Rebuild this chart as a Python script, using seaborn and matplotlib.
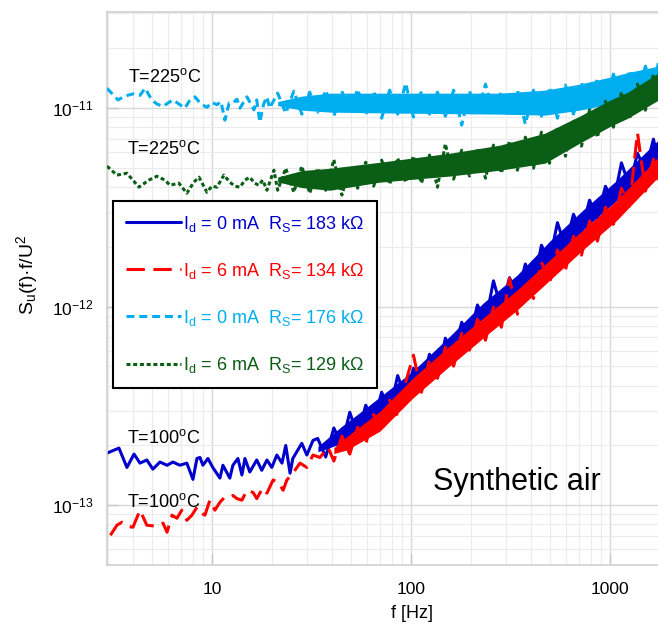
import numpy as np
import matplotlib
matplotlib.use('Agg')
import matplotlib.pyplot as plt
import matplotlib.ticker as mticker
import seaborn as sns

# ---------------- data (values in units of 1e-13) ----------------
SCALE = 1e-13

# shared frequency grid for the dense (noisy) high-frequency part [Hz]
dense_f = [19.5, 21.4, 23.5, 25.8, 28.3, 31.0, 34.0, 37.3, 41.0, 45.0, 49.3, 54.0, 59.3,
           65.0, 71.3, 78.2, 85.8, 94.1, 103, 113, 124, 136, 149, 164, 180, 197, 216,
           237, 260, 285, 313, 343, 376, 413, 453, 497, 545, 598, 656, 720, 790, 866,
           950, 1042, 1143, 1254, 1376, 1509, 1655, 1750]

# Id = 0 mA, RS = 183 kOhm (T=100 C)
blue_low_f = [2.97, 3.41, 3.74, 4.06, 4.35, 4.71, 5.05, 5.48, 5.95, 6.37, 6.90, 7.48, 8.03,
              8.41, 8.71, 9.01, 9.55, 10.1, 10.97, 11.36, 12.3, 12.75, 13.51, 14.15, 14.65,
              15.5, 16.8, 17.8, 18.9, 20.0, 21.2, 22.5, 23.5, 24.7, 25.5, 28.3, 30.0, 32.2]
blue_low_v = [1.83, 1.94, 1.55, 1.81, 1.63, 1.69, 1.52, 1.65, 1.59, 1.65, 1.59, 1.63, 1.35,
              1.72, 1.74, 1.59, 1.72, 1.55, 1.37, 1.59, 1.37, 1.59, 1.72, 1.42, 1.72,
              1.47, 1.69, 1.50, 1.69, 1.55, 1.79, 1.63, 2.0, 1.45, 1.72, 2.05, 1.79, 2.12]
blue_dense = [2.17, 1.75, 2.45, 2.01, 2.94, 2.23, 3.19, 2.62, 3.71, 2.94, 4.5, 3.46, 4.9,
              3.97, 5.76, 4.4, 6.94, 5.76, 8.35, 6.94, 10.2, 8.35, 13.5, 9.7, 14.0, 11.3,
              16.4, 12.8, 20.4, 16.8, 26.5, 19.9, 29.2, 23.7, 34.4, 27.9, 40.4, 33.5, 53.0,
              40.4, 59.3, 48.2, 69.8, 54.7]
blue_band_f = [34.1, 45.0, 57.4, 102, 157, 230, 341, 499, 731, 1085, 1750]
blue_band_hi = [1.98, 2.50, 3.01, 4.73, 7.11, 10.4, 14.4, 21.4, 30.6, 43.4, 69.0]
blue_band_lo = [1.86, 2.05, 2.39, 3.76, 5.64, 8.26, 11.4, 16.9, 24.3, 34.4, 54.7]

# Id = 6 mA, RS = 134 kOhm (T=100 C)
red_low_f = [3.09, 3.33, 3.53, 3.74, 4.01, 4.35, 4.71, 5.29, 5.68, 5.95, 6.30, 6.67, 7.06,
             7.48, 7.93, 8.41, 8.71, 9.22, 9.77, 10.35, 10.97, 11.62, 12.3, 12.75, 13.36,
             14.15, 15.0, 16.1, 16.8, 18.0, 18.9, 20.3, 21.5, 22.8, 23.8, 25.5, 27.7, 30.0,
             32.2, 34.9, 38.3]
red_low_v = [0.706, 0.793, 0.821, 0.784, 0.775, 0.944, 0.793, 0.784, 0.812, 0.731, 0.891,
             0.86, 0.944, 0.84, 0.891, 0.977, 0.922, 0.891, 1.06, 0.944, 1.035, 1.10, 1.10,
             1.12, 1.08, 1.06, 1.19, 1.16, 1.08, 1.22, 1.15, 1.34, 1.31, 1.19, 1.34, 1.45,
             1.63, 1.55, 1.79, 1.74, 1.96]
red_dense = [1.67, 2.23, 1.81, 2.47, 2.03, 2.87, 2.33, 3.38, 2.80, 4.16, 5.70, 3.71, 5.38,
             4.36, 6.25, 5.02, 7.35, 6.04, 8.65, 6.78, 9.94, 7.88, 13.9, 9.17, 13.4, 11.0,
             16.8, 13.0, 19.3, 15.3, 22.6, 18.2, 27.0, 21.4, 31.7, 26.0, 39.5, 32.1, 75.2,
             38.2, 55.4, 43.4]
red_band_f = [41.0, 47.7, 69.8, 102, 152, 230, 341, 499, 731, 1085, 1750]
red_band_hi = [1.95, 2.22, 2.97, 4.36, 6.19, 8.75, 12.1, 17.2, 24.3, 34.4, 56.7]
red_band_lo = [1.82, 1.90, 2.36, 3.46, 4.90, 6.94, 9.6, 13.6, 19.3, 27.3, 45.0]

# Id = 0 mA, RS = 176 kOhm (T=225 C)
cyan_low_f = [2.97, 3.37, 3.65, 4.01, 4.35, 4.61, 4.99, 5.29, 5.68, 6.0, 6.37, 6.82, 7.31,
              7.76, 8.22, 8.8, 9.44, 10.0, 10.6, 11.1, 11.62, 12.2, 12.75, 13.36, 13.83,
              14.5, 15.0, 15.7, 16.26, 16.8, 17.4, 18.2, 18.9, 19.5]
cyan_low_v = [126, 110, 115, 118, 116, 126, 110, 105, 102, 106, 110, 105, 100, 110, 114,
              105, 101, 107, 104, 108, 87, 106, 106, 111, 100, 108, 114, 105, 98, 110, 85,
              105, 114, 100]
cyan_dense = [119, 94.4, 121.8, 93.3, 120.4, 95.5, 123.2, 91.1, 121.8, 94.4, 124.7, 92.2,
              121.8, 89.0, 123.2, 93.3, 133.6, 90.1, 121.8, 93.3, 120.4, 91.1, 123.2, 82.1,
              121.8, 93.3, 132.1, 92.2, 121.8, 91.1, 123.2, 83.0, 123.2, 91.1, 127.6, 89.0,
              130.6, 93.3, 135.2, 97.7, 141.6, 104.8, 148.4, 109.7, 155.4, 115.0, 162.8,
              123.2, 168.5]
cyan_band_f = [21.4, 28.3, 39.2, 88, 280, 471, 704, 1000, 1262, 1750]
cyan_band_hi = [108.0, 115.0, 119.0, 119.0, 119.0, 123.2, 132.1, 143.3, 151.9, 162.8]
cyan_band_lo = [103.0, 97.7, 95.5, 94.4, 93.3, 92.2, 97.7, 104.8, 111.0, 117.6]

# Id = 6 mA, RS = 129 kOhm (T=225 C)
green_low_f = [2.97, 3.33, 3.74, 4.30, 4.82, 5.29, 5.81, 6.16, 6.82, 7.48, 8.12, 8.61, 9.44,
               10.0, 10.6, 11.49, 12.3, 13.0, 13.83, 14.65, 15.5, 16.4, 17.2, 18.0, 18.9, 20.5]
green_low_v = [51.0, 46.0, 47.0, 40.0, 43.4, 45.4, 43.4, 40.9, 41.9, 37.3, 42.4, 44.9, 37.7,
               40.5, 40.0, 46.0, 42.4, 40.5, 40.0, 43.4, 44.9, 41.9, 40.9, 43.4, 38.6, 48.7]
green_dense = [38.6, 49.8, 37.7, 51.0, 37.3, 49.8, 38.6, 55.0, 36.5, 51.0, 39.5, 53.4, 40.5,
               54.7, 41.4, 56.0, 42.4, 57.3, 41.9, 58.0, 40.0, 66.0, 43.9, 61.4, 45.5, 62.8,
               44.4, 65.1, 47.1, 68.2, 48.7, 71.4, 49.8, 75.7, 52.8, 80.2, 57.3, 88.0, 64.4,
               97.7, 71.4, 108.4, 80.2, 120.4, 88.0, 132.1, 97.7, 148.4, 107.2]
green_band_f = [21.4, 28.3, 39.2, 69.8, 157, 280, 471, 704, 1000, 1231, 1750]
green_band_hi = [45.0, 48.5, 49.8, 53.4, 59.3, 65.1, 74.8, 91.1, 109.7, 120.4, 150.1]
green_band_lo = [42.5, 39.8, 38.6, 42.4, 45.5, 48.7, 52.8, 66.6, 80.8, 89.0, 109.7]

labels = ['I$_\\mathregular{d}$ = 0 mA  R$_\\mathregular{S}$= 183 k\u03a9',
          'I$_\\mathregular{d}$ = 6 mA  R$_\\mathregular{S}$= 134 k\u03a9',
          'I$_\\mathregular{d}$ = 0 mA  R$_\\mathregular{S}$= 176 k\u03a9',
          'I$_\\mathregular{d}$ = 6 mA  R$_\\mathregular{S}$= 129 k\u03a9']
colors = ['#0000cd', '#ff0000', '#00aeef', '#0a5e16']
styles = ['-', (0, (6.0, 2.8)), (0, (2.6, 1.6)), (0, (1.3, 0.9))]

# ---------------- style ----------------
sns.set_theme(style='whitegrid')
plt.rcParams['font.family'] = ['Liberation Sans', 'DejaVu Sans']
plt.rcParams['mathtext.fontset'] = 'custom'
plt.rcParams['mathtext.rm'] = 'Liberation Sans'
plt.rcParams['mathtext.it'] = 'Liberation Sans:italic'
plt.rcParams['mathtext.bf'] = 'Liberation Sans:bold'
plt.rcParams['axes.unicode_minus'] = False

fig = plt.figure(figsize=(6.58, 6.25), dpi=100)
ax = fig.add_axes([107 / 658, 1 - 565 / 625, 551 / 658, 553 / 625])
ax.set_xscale('log')
ax.set_yscale('log')

series = [
    (blue_low_f + dense_f[6:], blue_low_v + blue_dense, blue_band_f, blue_band_lo, blue_band_hi),
    (red_low_f + dense_f[8:], red_low_v + red_dense, red_band_f, red_band_lo, red_band_hi),
    (cyan_low_f + dense_f[1:], cyan_low_v + cyan_dense, cyan_band_f, cyan_band_lo, cyan_band_hi),
    (green_low_f + dense_f[1:], green_low_v + green_dense, green_band_f, green_band_lo, green_band_hi),
]

for i, (f, v, bf, lo, hi) in enumerate(series):
    z = 2 + i
    ax.fill_between(bf, np.array(lo) * SCALE, np.array(hi) * SCALE, color=colors[i], lw=0, zorder=z)
    sns.lineplot(x=f, y=np.array(v) * SCALE, ax=ax, color=colors[i], lw=2.2, linestyle=styles[i],
                 estimator=None, sort=False, label=labels[i], legend=False, zorder=z)

ax.set_xlim(2.97, 1745)
ax.set_ylim(5e-14, 3.05e-11)

# grid, spines, ticks
ax.grid(True, which='major', color='#d8d8d8', lw=1.0)
ax.grid(True, which='minor', color='#ebebeb', lw=0.8)
ax.set_axisbelow(True)
for s in ['left', 'bottom', 'top']:
    ax.spines[s].set_color('#d0d0d0')
    ax.spines[s].set_linewidth(1.2)
ax.spines['right'].set_visible(False)

ax.xaxis.set_major_locator(mticker.FixedLocator([10, 100, 1000]))
ax.xaxis.set_major_formatter(mticker.FuncFormatter(lambda val, p: f'{val:g}'))
ax.xaxis.set_minor_locator(mticker.LogLocator(base=10, subs=np.arange(2, 10)))
ax.xaxis.set_minor_formatter(mticker.NullFormatter())
ax.yaxis.set_major_locator(mticker.FixedLocator([1e-13, 1e-12, 1e-11]))
ax.yaxis.set_major_formatter(mticker.LogFormatterSciNotation())
ax.yaxis.set_minor_locator(mticker.LogLocator(base=10, subs=np.arange(2, 10), numticks=20))
ax.yaxis.set_minor_formatter(mticker.NullFormatter())

ax.tick_params(which='major', left=True, bottom=True, direction='in', length=8, width=1,
               color='#c8c8c8', labelsize=12.5, labelcolor='black')
ax.tick_params(which='minor', length=0)
ax.tick_params(axis='x', which='major', pad=12)
ax.tick_params(axis='y', which='major', pad=10)

ax.set_xlabel('f [Hz]', fontsize=13, color='black')
ax.xaxis.set_label_coords(0.553, -0.072)
ax.set_ylabel('S$_\\mathregular{u}$(f)\u00b7f/U$^\\mathregular{2}$', fontsize=14, color='black')
ax.yaxis.set_label_coords(-0.122, 0.524)

# annotations
tfmt = dict(transform=ax.transAxes, fontsize=13, ha='left', va='baseline', color='black')
ax.text(0.038, 0.8734, 'T=225$^\\mathregular{o}$C', **tfmt)
ax.text(0.0354, 0.7432, 'T=225$^\\mathregular{o}$C', **tfmt)
ax.text(0.0354, 0.2206, 'T=100$^\\mathregular{o}$C', **tfmt)
ax.text(0.0354, 0.1049, 'T=100$^\\mathregular{o}$C', **tfmt)
ax.text(0.591, 0.1356, 'Synthetic air', transform=ax.transAxes, fontsize=22,
        ha='left', va='baseline', color='black')

# legend
handles = ax.get_lines()[:4]
leg = ax.legend(handles=handles, labels=labels, loc='upper left',
                bbox_to_anchor=(6 / 551, 1 - (201 - 12) / 553), borderaxespad=0,
                fontsize=13, frameon=True, fancybox=False, framealpha=1,
                edgecolor='black', handlelength=3.05, handletextpad=0.12,
                labelspacing=1.5, borderpad=0.7)
leg.get_frame().set_linewidth(1.5)
for t, c in zip(leg.get_texts(), colors):
    t.set_color(c)
leg.set_zorder(10)

fig.savefig('out.png', dpi=100)
